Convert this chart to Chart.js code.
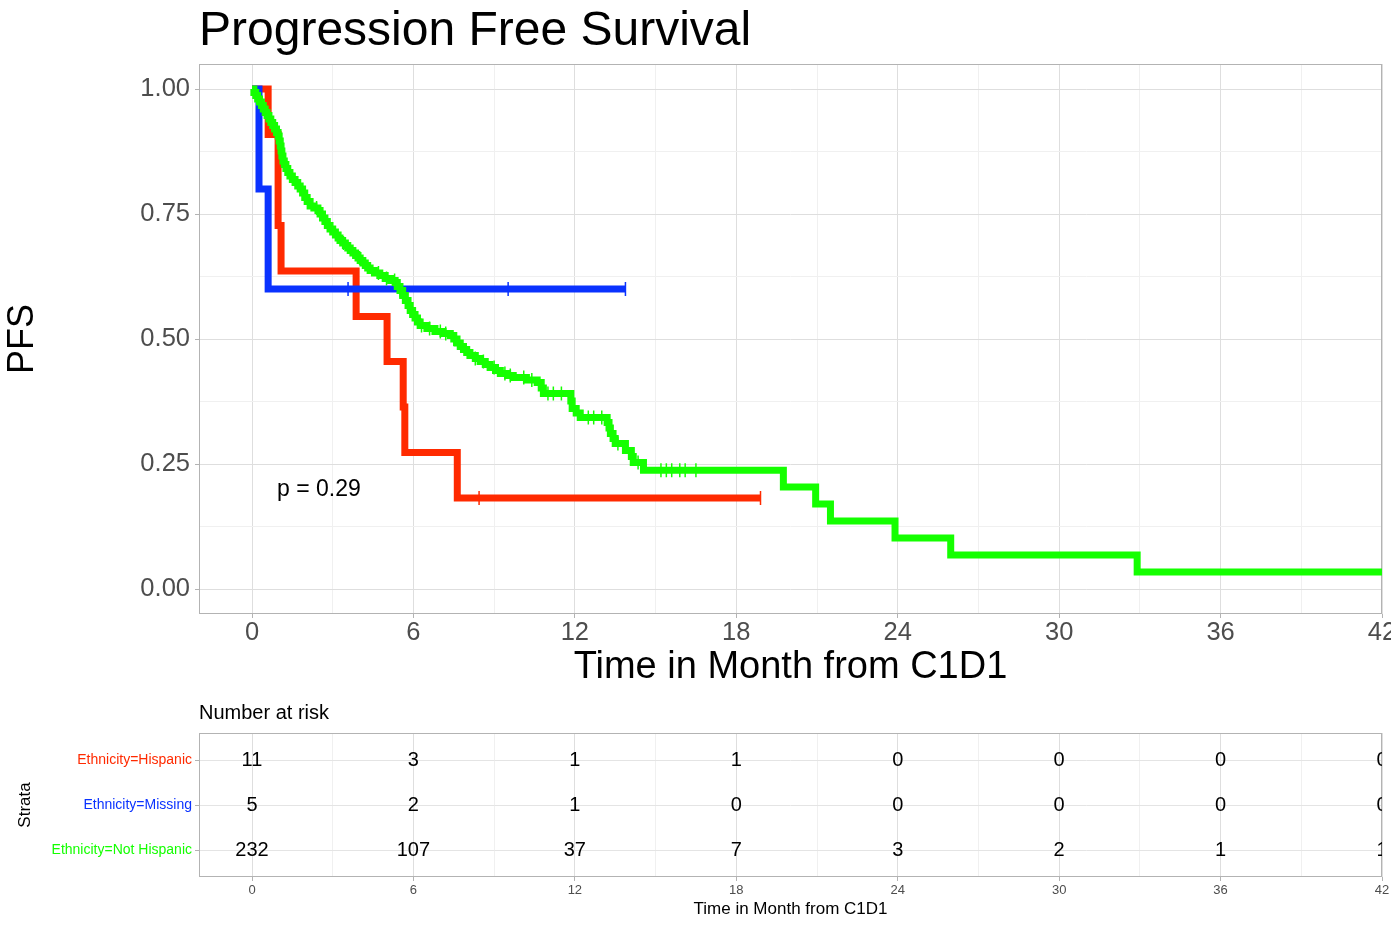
<!DOCTYPE html>
<html>
<head>
<meta charset="utf-8">
<script src="https://cdn.jsdelivr.net/npm/chart.js@4.4.1/dist/chart.umd.min.js"></script>
<style>
  html, body { margin: 0; padding: 0; background: #fff; overflow: hidden; width: 1391px; height: 927px; }
  #km { position: absolute; left: 0; top: 0; }
  #riesgo { position: absolute; left: 0; top: 690px; }
</style>
</head>
<body>
<canvas id="km" width="1420" height="700"></canvas>
<canvas id="riesgo" width="1420" height="237"></canvas>
<script>
// estratos
const estratos = ['Ethnicity=Hispanic', 'Ethnicity=Missing', 'Ethnicity=Not Hispanic'];
const colores = ['#FF2A00', '#0A32FF', '#14FF00'];

// curvas KM (tiempo en meses, supervivencia tras cada evento)
const hispTiempo = [0, 0.6, 0.97, 1.08, 3.87, 5.02, 5.62, 5.68, 7.63, 18.9];
const hispSurv   = [1, 0.909, 0.727, 0.636, 0.545, 0.455, 0.364, 0.273, 0.182, 0.182];
const hispCens   = [8.44, 18.9];

const missTiempo = [0, 0.26, 0.6, 13.88];
const missSurv   = [1, 0.8, 0.6, 0.6];
const missCens   = [3.57, 9.52, 13.88];

const notHispTiempo = [0, 0.07, 0.14, 0.21, 0.28, 0.35, 0.42, 0.49, 0.56, 0.63, 0.7, 0.77, 0.84, 0.91, 0.97,
  1.01, 1.05, 1.08, 1.11, 1.15, 1.2, 1.26, 1.33, 1.41, 1.5, 1.6, 1.7, 1.79, 1.88, 1.96, 2.05, 2.16,
  2.3, 2.45, 2.53, 2.62, 2.71, 2.8, 2.9, 3.0, 3.1, 3.2, 3.27, 3.37, 3.47, 3.56, 3.65, 3.75, 3.85, 3.94,
  4.02, 4.12, 4.21, 4.3, 4.39, 4.55, 4.75, 4.95, 5.15, 5.32, 5.4, 5.5, 5.6, 5.7, 5.8, 5.88, 5.97, 6.06,
  6.15, 6.25, 6.5, 6.8, 7.1, 7.37, 7.5, 7.62, 7.74, 7.86, 7.98, 8.1, 8.3, 8.48, 8.67, 8.85, 9.05, 9.23,
  9.5, 9.71, 10.2, 10.6, 10.75, 10.83, 11.85, 11.9, 12.05, 12.2, 13.2, 13.27, 13.32, 13.42, 13.5, 13.88,
  14.1, 14.17, 14.55, 19.75, 20.95, 21.5, 23.9, 25.97, 32.9, 44];
const notHispSurv = [1, 0.993, 0.987, 0.98, 0.974, 0.967, 0.96, 0.953, 0.947, 0.94, 0.933, 0.927, 0.92, 0.913, 0.906,
  0.896, 0.886, 0.876, 0.866, 0.856, 0.849, 0.841, 0.833, 0.826, 0.819, 0.813, 0.806, 0.8, 0.792, 0.783, 0.775, 0.766,
  0.762, 0.757, 0.75, 0.742, 0.735, 0.727, 0.72, 0.714, 0.708, 0.702, 0.697, 0.692, 0.687, 0.682, 0.677, 0.672, 0.667, 0.662,
  0.657, 0.652, 0.647, 0.642, 0.637, 0.632, 0.627, 0.621, 0.617, 0.613, 0.605, 0.597, 0.587, 0.577, 0.567, 0.557, 0.549, 0.542,
  0.534, 0.527, 0.521, 0.515, 0.511, 0.507, 0.5, 0.492, 0.485, 0.479, 0.473, 0.467, 0.461, 0.455, 0.449, 0.443, 0.437, 0.431,
  0.427, 0.423, 0.418, 0.413, 0.402, 0.391, 0.376, 0.361, 0.352, 0.343, 0.333, 0.322, 0.311, 0.301, 0.291, 0.277,
  0.265, 0.253, 0.2375, 0.204, 0.17, 0.136, 0.102, 0.068, 0.034, 0.034];
const notHispCens = [0.45, 1.15, 1.45, 2.4, 2.6, 3.4, 4.0, 4.7, 5.0, 5.3, 5.5, 6.3, 6.6, 7.0, 7.2, 7.5,
  8.3, 8.6, 9.0, 9.4, 9.6, 10.1, 10.4, 11.0, 11.2, 11.5, 12.5, 12.7, 13.0, 13.6, 14.35,
  15.2, 15.4, 15.6, 15.9, 16.1, 16.5];

// tabla de numero en riesgo
const riesgoTiempo = [0, 6, 12, 18, 24, 30, 36, 42];
const riesgoHisp = [11, 3, 1, 1, 0, 0, 0, 0];
const riesgoMiss = [5, 2, 1, 0, 0, 0, 0, 0];
const riesgoNotHisp = [232, 107, 37, 7, 3, 2, 1, 1];

const pTexto = 'p = 0.29';

const xMin = -1.97, xMax = 42;
const fuente = '"Liberation Sans", Arial, sans-serif';
Chart.defaults.font.family = fuente;

function puntos(t, s) { return t.map((x, i) => ({ x: x, y: s[i] })); }
function survEn(t, s, c) {
    let v = 1;
    for (let i = 0; i < t.length; i++) if (t[i] <= c) v = s[i];
    return v;
}
function censuras(t, s, cs) { return cs.map(c => ({ x: c, y: survEn(t, s, c) })); }

const esMayorX = v => Math.abs(v % 6) < 1e-9;
const esMayorY = v => Math.abs((v * 4) % 1) < 1e-9;

const marco = {
    id: 'marco',
    beforeDatasetsDraw(chart) {
        const a = chart.chartArea, c = chart.ctx;
        c.save();
        c.strokeStyle = '#B3B3B3';
        c.lineWidth = 1;
        c.strokeRect(a.left + 0.5, a.top + 0.5, a.right - a.left - 1, a.bottom - a.top - 1);
        c.restore();
    }
};

const textos = {
    id: 'textos',
    afterDraw(chart) {
        const c = chart.ctx, a = chart.chartArea;
        c.save();
        c.fillStyle = '#000';
        c.textBaseline = 'middle';
        c.textAlign = 'left';
        c.font = '48px ' + fuente;
        c.fillText('Progression Free Survival', a.left, 32);
        c.font = '23px ' + fuente;
        c.fillText(pTexto, chart.scales.x.getPixelForValue(0.93), chart.scales.y.getPixelForValue(0.198));
        c.restore();
    }
};

function linea(i, t, s) {
    return {
        label: estratos[i], data: puntos(t, s), showLine: true, stepped: true,
        borderColor: colores[i], backgroundColor: colores[i], borderWidth: 7,
        borderJoinStyle: 'miter', borderCapStyle: 'butt', pointRadius: 0, order: 3 - i
    };
}
function marcas(i, t, s, cs) {
    return {
        label: estratos[i] + ' +', data: censuras(t, s, cs), showLine: false,
        pointStyle: 'line', rotation: 90, pointRadius: 7, borderWidth: 1.5,
        borderColor: colores[i], backgroundColor: colores[i], order: 0
    };
}

function ejeX(alto, tam, pad, titulo, tamTitulo, padTitulo) {
    return {
        type: 'linear', min: xMin, max: xMax,
        afterBuildTicks: s => { s.ticks = []; for (let v = 0; v <= 42; v += 3) s.ticks.push({ value: v }); },
        afterFit: s => { s.height = alto; },
        ticks: { autoSkip: false, maxRotation: 0, padding: pad, color: '#4D4D4D', font: { size: tam },
            callback: v => esMayorX(v) ? String(v) : '' },
        grid: {
            color: c => (c.tick && esMayorX(c.tick.value)) ? '#DEDEDE' : '#F0F0F0',
            tickColor: c => (c.tick && esMayorX(c.tick.value)) ? '#B3B3B3' : 'rgba(0,0,0,0)',
            tickLength: 4, lineWidth: 1
        },
        border: { display: false },
        title: { display: true, text: titulo, color: '#000', font: { size: tamTitulo }, padding: { top: 0, bottom: padTitulo } }
    };
}

new Chart(document.getElementById('km'), {
    type: 'scatter',
    data: {
        datasets: [
            linea(0, hispTiempo, hispSurv),
            linea(1, missTiempo, missSurv),
            linea(2, notHispTiempo, notHispSurv),
            marcas(0, hispTiempo, hispSurv, hispCens),
            marcas(1, missTiempo, missSurv, missCens),
            marcas(2, notHispTiempo, notHispSurv, notHispCens)
        ]
    },
    options: {
        responsive: false, animation: false, events: [],
        layout: { padding: { top: 64, left: 0, right: 38, bottom: 0 } },
        plugins: { legend: { display: false }, tooltip: { enabled: false } },
        scales: {
            x: ejeX(86, 25.5, 0, 'Time in Month from C1D1', 38, 10),
            y: {
                type: 'linear', min: -0.05, max: 1.05,
                afterBuildTicks: s => { s.ticks = []; for (let v = 0; v <= 1; v += 0.125) s.ticks.push({ value: v }); },
                afterFit: s => { s.width = 199; },
                ticks: { padding: 5, color: '#4D4D4D', font: { size: 25.5 },
                    callback: v => esMayorY(v) ? v.toFixed(2) : '' },
                grid: {
                    color: c => (c.tick && esMayorY(c.tick.value)) ? '#DEDEDE' : '#F0F0F0',
                    tickColor: c => (c.tick && esMayorY(c.tick.value)) ? '#B3B3B3' : 'rgba(0,0,0,0)',
                    tickLength: 4, lineWidth: 1
                },
                border: { display: false },
                title: { display: true, text: 'PFS', color: '#000', font: { size: 36 }, padding: { top: 1, bottom: 0 } }
            }
        }
    },
    plugins: [marco, textos]
});

// tabla de riesgo
const cifras = {
    id: 'cifras',
    afterDatasetsDraw(chart) {
        const c = chart.ctx, a = chart.chartArea;
        c.save();
        c.fillStyle = '#000';
        c.textBaseline = 'middle';
        c.textAlign = 'left';
        c.font = '20px ' + fuente;
        c.fillText('Number at risk', a.left, a.top - 20);
        c.beginPath();
        c.rect(a.left, a.top, a.right - a.left, a.bottom - a.top);
        c.clip();
        c.textAlign = 'center';
        chart.data.datasets.forEach((ds, i) => {
            chart.getDatasetMeta(i).data.forEach((el, j) => {
                c.fillText(String(ds.numeros[j]), el.x, el.y);
            });
        });
        c.restore();
    }
};

function fila(numeros, nivel) {
    return { data: riesgoTiempo.map(t => ({ x: t, y: nivel })), numeros: numeros, pointRadius: 0, showLine: false };
}

new Chart(document.getElementById('riesgo'), {
    type: 'scatter',
    data: { datasets: [fila(riesgoHisp, 3), fila(riesgoMiss, 2), fila(riesgoNotHisp, 1)] },
    options: {
        responsive: false, animation: false, events: [],
        layout: { padding: { top: 43, left: 0, right: 38, bottom: 0 } },
        plugins: { legend: { display: false }, tooltip: { enabled: false } },
        scales: {
            x: ejeX(50, 13, 2, 'Time in Month from C1D1', 17, 7),
            y: {
                type: 'linear', min: 0.4, max: 3.6,
                afterBuildTicks: s => { s.ticks = [1, 2, 3].map(v => ({ value: v })); },
                afterFit: s => { s.width = 199; },
                ticks: { padding: 3, font: { size: 14 },
                    color: c => colores[3 - c.tick.value],
                    callback: v => estratos[3 - v] },
                grid: { color: '#E4E4E4', tickColor: '#B3B3B3', tickLength: 4, lineWidth: 1 },
                border: { display: false },
                title: { display: true, text: 'Strata', color: '#000', font: { size: 17 }, padding: { top: 15, bottom: 0 } }
            }
        }
    },
    plugins: [marco, cifras]
});
</script>
</body>
</html>
